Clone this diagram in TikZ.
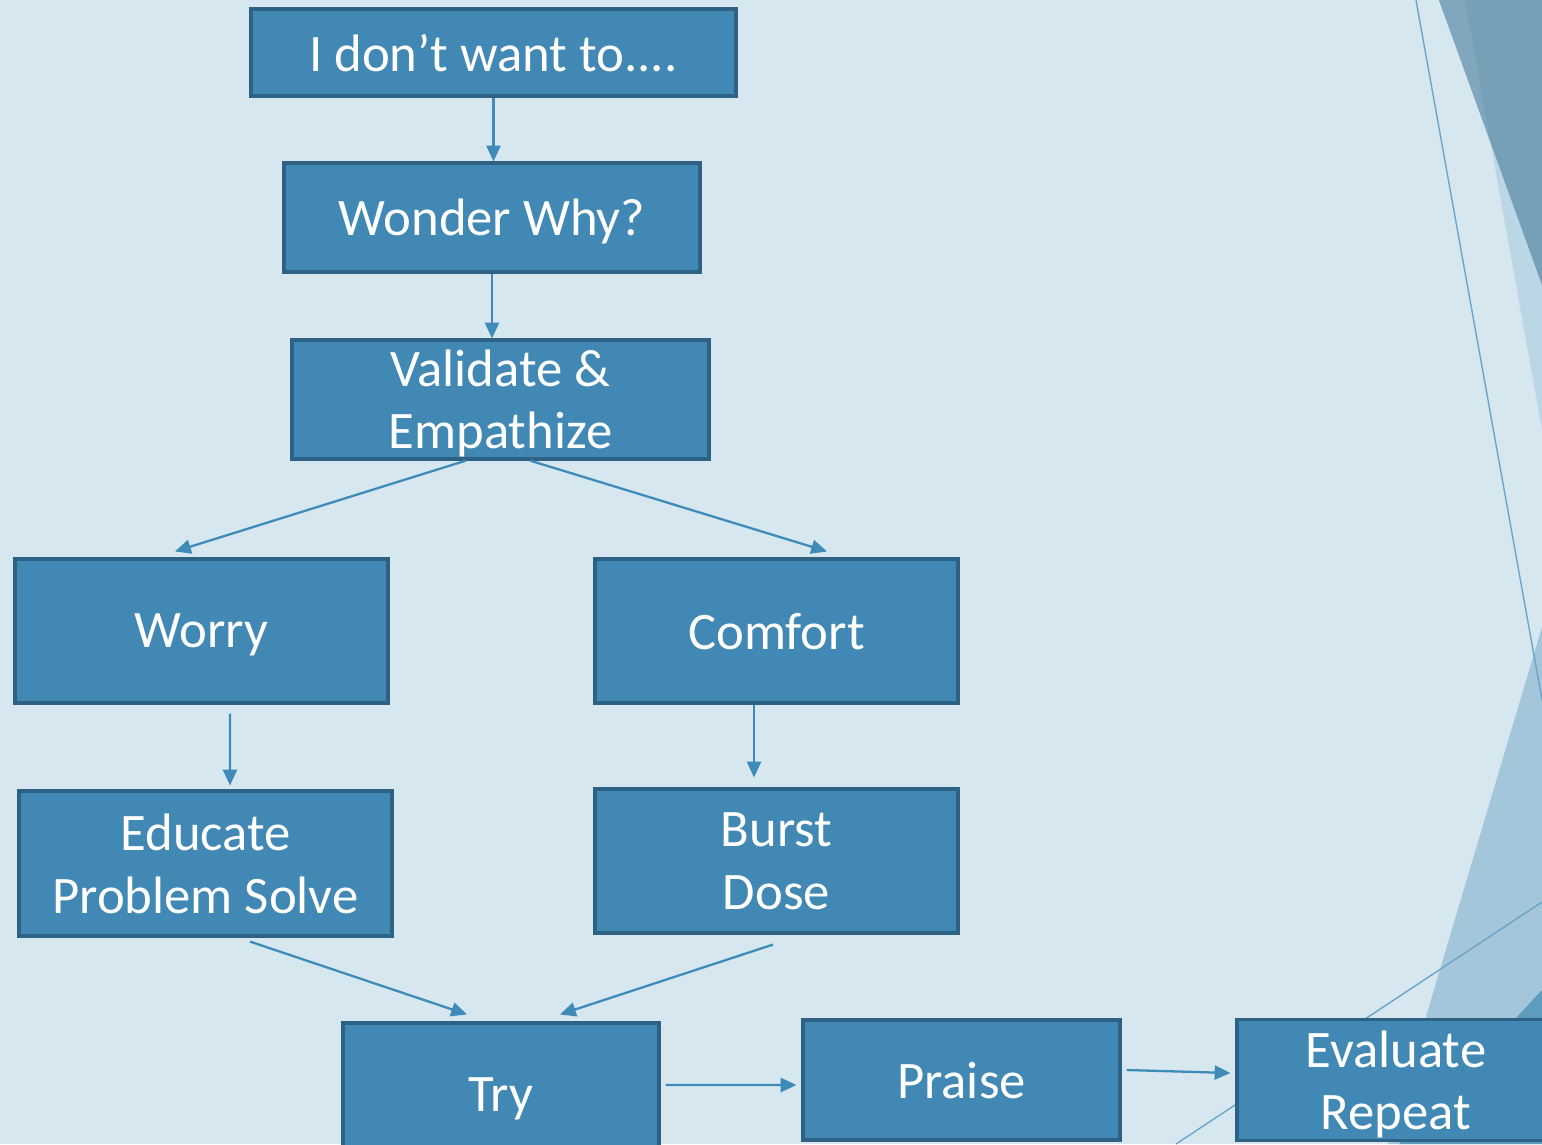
\documentclass[tikz,border=0pt]{standalone}
\usepackage{fontspec}
\setmainfont{Carlito}
\usetikzlibrary{arrows.meta}

\definecolor{bgblue}{HTML}{D7E7F0}
\definecolor{boxfill}{HTML}{4189B4}
\definecolor{boxedge}{HTML}{2E6285}
\definecolor{arrowblue}{HTML}{3E8AB9}
\definecolor{thinline}{HTML}{6AA6CA}
\definecolor{wedgedark}{HTML}{769FB8}
\definecolor{wedgemid}{HTML}{80A7BE}
\definecolor{bandlight}{HTML}{BBD6E4}
\definecolor{bandblue}{HTML}{A3C6DA}
\definecolor{cornerblue}{HTML}{5F9BBF}

\tikzset{
    box/.style={draw=boxedge, fill=boxfill, line width=1.8pt, text=white, align=center,
        inner sep=0pt, text depth=0pt, font=\fontsize{30}{35.5}\selectfont},
    arr/.style={draw=arrowblue, line width=1.3pt, -{Triangle[length=9pt,width=8pt]}}
}

\begin{document}
\begin{tikzpicture}[x=0.02cm, y=-0.02cm]
    \useasboundingbox (0,0) rectangle (1542,1144);
    \clip (0,0) rectangle (1542,1144);
    \fill[bgblue] (0,0) rectangle (1542,1144);
    % right edge decoration
    \fill[bandlight] (1465,0) -- (1542,430) -- (1542,0) -- cycle;
    \fill[wedgedark] (1439,0) -- (1542,0) -- (1542,285) -- cycle;
    \fill[wedgemid] (1439,0) -- (1465,0) -- (1490,140) -- cycle;
    \fill[bandblue] (1542,627) -- (1388,1144) -- (1542,1144) -- cycle;
    \fill[cornerblue] (1542,990) -- (1399,1144) -- (1542,1144) -- cycle;
    \draw[thinline, line width=0.8pt] (1416,0) -- (1542,700);
    \draw[thinline, line width=0.8pt] (1542,902) -- (1176,1144);

    \node[box, minimum width=9.7cm, minimum height=1.74cm] (dontwant) at (493.5,52.5) {I don’t want to....};
    \node[box, minimum width=8.32cm, minimum height=2.18cm] (wonder) at (492,217.5) {Wonder Why?};
    \node[box, minimum width=8.34cm, minimum height=2.38cm] (validate) at (500.5,399.5) {Validate \&\\Empathize};
    \node[box, minimum width=7.46cm, minimum height=2.88cm] (worry) at (201.5,631) {Worry};
    \node[box, minimum width=7.26cm, minimum height=2.88cm] (comfort) at (776.5,631) {Comfort};
    \node[box, minimum width=7.46cm, minimum height=2.9cm] (educate) at (205.5,863.5) {Educate\\Problem Solve};
    \node[box, minimum width=7.26cm, minimum height=2.88cm] (burst) at (776.5,861) {Burst\\Dose};
    \node[box, minimum width=6.32cm, minimum height=2.88cm] (try) at (501,1095) {Try};
    \node[box, minimum width=6.34cm, minimum height=2.4cm] (praise) at (961.5,1080) {Praise};
    \node[box, minimum width=6.36cm, minimum height=2.42cm] (evaluate) at (1396,1080) {Evaluate\\Repeat};

    \draw[arr] (dontwant.south) -- (dontwant.south |- wonder.north);
    \draw[arr] (wonder.south) -- (wonder.south |- validate.north);
    \draw[arr] ([xshift=-0.69cm]validate.south) -- ([xshift=-0.53cm,yshift=0.12cm]worry.north);
    \draw[arr] ([xshift=0.59cm]validate.south) -- ([xshift=1.01cm,yshift=0.12cm]comfort.north);
    \draw[arr] ([xshift=0.57cm,yshift=-0.18cm]worry.south) -- ([xshift=0.49cm,yshift=0.08cm]educate.north);
    \draw[arr] ([xshift=-0.45cm]comfort.south) -- ([xshift=-0.45cm,yshift=0.2cm]burst.north);
    \draw[arr] ([xshift=0.89cm,yshift=-0.08cm]educate.south) -- ([xshift=-0.68cm,yshift=0.14cm]try.north);
    \draw[arr] ([xshift=-0.07cm,yshift=-0.2cm]burst.south) -- ([xshift=1.18cm,yshift=0.14cm]try.north);
    \draw[arr] ([shift={(0.1cm,0.2cm)}]try.east) -- ([shift={(-0.1cm,-0.1cm)}]praise.west);
    \draw[arr] ([shift={(0.1cm,0.2cm)}]praise.east) -- ([shift={(-0.1cm,0.14cm)}]evaluate.west);
\end{tikzpicture}
\end{document}
